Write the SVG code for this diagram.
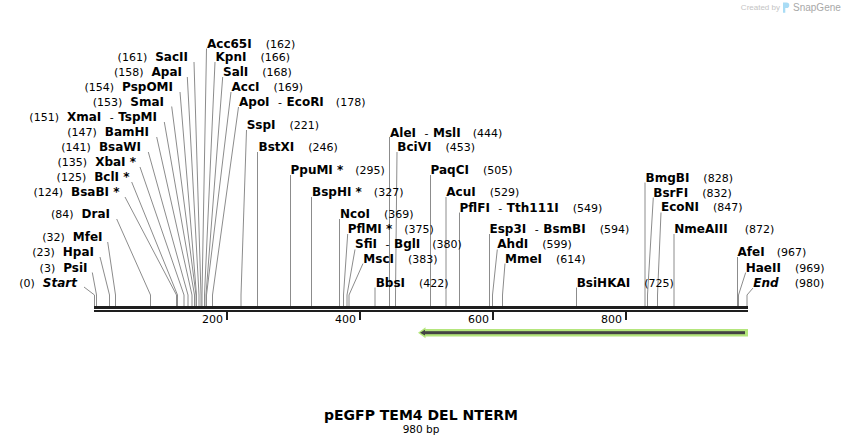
<svg xmlns="http://www.w3.org/2000/svg" width="842" height="445" viewBox="0 0 842 445">
<style>
text{font-family:"DejaVu Sans","Verdana",sans-serif;fill:#000}
.b{font-weight:bold;font-size:12px}
.i{font-weight:bold;font-style:italic;font-size:12px}
.n{font-weight:normal;font-size:11px}
.d{font-weight:normal;font-size:11px}
.l{text-anchor:end}
.ln{fill:none;stroke:#8c8c8c;stroke-width:1}
.tk{font-size:11px;text-anchor:end}
</style>
<rect width="842" height="445" fill="#fff"/>
<g id="watermark">
<text x="780" y="10" style="font-family:'Liberation Sans',sans-serif;font-size:8px;fill:#c4c4c4;text-anchor:end">Created by</text>
<path d="M783 2.5h3.5a2.8 2.8 0 0 1 0 5.6h-1.2v4.6h-2.3z" fill="#a9dcf5"/>
<text x="793" y="10.8" style="font-family:'Liberation Sans',sans-serif;font-size:10px;fill:#a8a8a8">SnapGene</text>
</g>
<g id="connectors">
<polyline class="ln" points="194,62 201,295 201,306"/>
<polyline class="ln" points="187.3,77 199,295 199,306"/>
<polyline class="ln" points="180,92 196.5,295 196.5,306"/>
<polyline class="ln" points="171.7,106.5 196,295 196,306"/>
<polyline class="ln" points="164.3,122 194.5,295 194.5,306"/>
<polyline class="ln" points="156.7,137 192,295 192,306"/>
<polyline class="ln" points="148.3,152 188,295 188,306"/>
<polyline class="ln" points="140,167 184,295 184,306"/>
<polyline class="ln" points="131.7,182 177.5,295 177.5,306"/>
<polyline class="ln" points="125,197 176.5,295 176.5,306"/>
<polyline class="ln" points="116.7,219 150.5,295 150.5,306"/>
<polyline class="ln" points="107.7,242 115.5,295 115.5,306"/>
<polyline class="ln" points="100,257 109.5,295 109.5,306"/>
<polyline class="ln" points="92.3,272.5 96.5,295 96.5,306"/>
<polyline class="ln" points="84,287 94.5,295 94.5,306"/>
<polyline class="ln" points="206.5,48.5 202,295 202,306"/>
<polyline class="ln" points="215,62 204.5,295 204.5,306"/>
<polyline class="ln" points="222.7,77 206,295 206,306"/>
<polyline class="ln" points="231,92 206.5,295 206.5,306"/>
<polyline class="ln" points="238.5,107 212.5,295 212.5,306"/>
<polyline class="ln" points="246.5,130 241,295 241,306"/>
<polyline class="ln" points="257.5,152 257.5,306"/>
<polyline class="ln" points="290.5,175 290.5,306"/>
<polyline class="ln" points="311.5,197 311.5,306"/>
<polyline class="ln" points="339.5,219 339.5,306"/>
<polyline class="ln" points="347.7,234 343.5,295 343.5,306"/>
<polyline class="ln" points="355,249.5 347,295 347,306"/>
<polyline class="ln" points="363,263.5 349,295 349,306"/>
<polyline class="ln" points="375,287.5 375,306"/>
<polyline class="ln" points="389.5,137 389.5,306"/>
<polyline class="ln" points="397,152 395.5,295 395.5,306"/>
<polyline class="ln" points="430.5,175 430.5,306"/>
<polyline class="ln" points="446,197 446,306"/>
<polyline class="ln" points="459.5,212.5 459.5,306"/>
<polyline class="ln" points="489.5,234 489.5,306"/>
<polyline class="ln" points="497.3,249.5 492.5,295 492.5,306"/>
<polyline class="ln" points="505,263.5 502.5,295 502.5,306"/>
<polyline class="ln" points="576.5,287.5 576.5,306"/>
<polyline class="ln" points="645,182.5 645,306"/>
<polyline class="ln" points="653.3,197.5 647.5,295 647.5,306"/>
<polyline class="ln" points="661,212.5 657.5,295 657.5,306"/>
<polyline class="ln" points="674,234 674,306"/>
<polyline class="ln" points="737.5,257 737.5,306"/>
<polyline class="ln" points="745.7,272.5 738.5,295 738.5,306"/>
<polyline class="ln" points="753,288 747,295 747,306"/>
</g>
<g id="backbone">
<rect x="94" y="306" width="654" height="3" fill="#1e1e1e"/>
<rect x="94" y="310" width="654" height="2" fill="#1e1e1e"/>
<rect x="226" y="312" width="2" height="8" fill="#1e1e1e"/>
<rect x="359" y="312" width="2" height="8" fill="#1e1e1e"/>
<rect x="492" y="312" width="2" height="8" fill="#1e1e1e"/>
<rect x="625" y="312" width="2" height="8" fill="#1e1e1e"/>
<text class="tk" x="223" y="322.5">200</text>
<text class="tk" x="356" y="322.5">400</text>
<text class="tk" x="489" y="322.5">600</text>
<text class="tk" x="622" y="322.5">800</text>
</g>
<g id="feature">
<polygon points="418,332.7 425.5,327.2 425.5,329 748,329 748,336.5 425.5,336.5 425.5,338.3" fill="#b4e67c"/>
<rect x="424" y="331.2" width="321" height="3" fill="#444"/>
<polygon points="420,332.7 425,329.8 425,335.6" fill="#444"/>
</g>
<g id="SacII"><text class="l" x="188" y="61"><tspan class="n">(161)</tspan><tspan class="b" dx="8">SacII</tspan></text></g>
<g id="ApaI"><text class="l" x="182" y="76"><tspan class="n">(158)</tspan><tspan class="b" dx="8">ApaI</tspan></text></g>
<g id="PspOMI"><text class="l" x="173" y="91"><tspan class="n">(154)</tspan><tspan class="b" dx="8">PspOMI</tspan></text></g>
<g id="SmaI"><text class="l" x="164" y="106"><tspan class="n">(153)</tspan><tspan class="b" dx="8">SmaI</tspan></text></g>
<g id="XmaI"><text class="l" x="157" y="121"><tspan class="n">(151)</tspan><tspan class="b" dx="8">XmaI</tspan><tspan class="d" dx="8.5">-</tspan><tspan class="b" dx="4.5">TspMI</tspan></text></g>
<g id="BamHI"><text class="l" x="149" y="136"><tspan class="n">(147)</tspan><tspan class="b" dx="8">BamHI</tspan></text></g>
<g id="BsaWI"><text class="l" x="141" y="151"><tspan class="n">(141)</tspan><tspan class="b" dx="8">BsaWI</tspan></text></g>
<g id="XbaI"><text class="l" x="136" y="166"><tspan class="n">(135)</tspan><tspan class="b" dx="8">XbaI *</tspan></text></g>
<g id="BclI"><text class="l" x="129.5" y="180.5"><tspan class="n">(125)</tspan><tspan class="b" dx="8">BclI *</tspan></text></g>
<g id="BsaBI"><text class="l" x="119.5" y="196"><tspan class="n">(124)</tspan><tspan class="b" dx="8">BsaBI *</tspan></text></g>
<g id="DraI"><text class="l" x="110" y="218"><tspan class="n">(84)</tspan><tspan class="b" dx="8">DraI</tspan></text></g>
<g id="MfeI"><text class="l" x="102.5" y="241"><tspan class="n">(32)</tspan><tspan class="b" dx="8">MfeI</tspan></text></g>
<g id="HpaI"><text class="l" x="94" y="256"><tspan class="n">(23)</tspan><tspan class="b" dx="8">HpaI</tspan></text></g>
<g id="PsiI"><text class="l" x="87.5" y="271.5"><tspan class="n">(3)</tspan><tspan class="b" dx="8">PsiI</tspan></text></g>
<g id="Start"><text class="l" x="77" y="286.5"><tspan class="n">(0)</tspan><tspan class="i" dx="8">Start</tspan></text></g>
<g id="Acc65I"><text x="207" y="47.6"><tspan class="b">Acc65I</tspan><tspan class="n" dx="14">(162)</tspan></text></g>
<g id="KpnI"><text x="215.5" y="61"><tspan class="b">KpnI</tspan><tspan class="n" dx="14">(166)</tspan></text></g>
<g id="SalI"><text x="223" y="76"><tspan class="b">SalI</tspan><tspan class="n" dx="14">(168)</tspan></text></g>
<g id="AccI"><text x="231.5" y="91"><tspan class="b">AccI</tspan><tspan class="n" dx="14">(169)</tspan></text></g>
<g id="ApoI"><text x="239" y="106"><tspan class="b">ApoI</tspan><tspan class="d" dx="8.5">-</tspan><tspan class="b" dx="4.5">EcoRI</tspan><tspan class="n" dx="12">(178)</tspan></text></g>
<g id="SspI"><text x="246.7" y="129"><tspan class="b">SspI</tspan><tspan class="n" dx="14">(221)</tspan></text></g>
<g id="BstXI"><text x="258.5" y="151"><tspan class="b">BstXI</tspan><tspan class="n" dx="14">(246)</tspan></text></g>
<g id="PpuMI"><text x="290.5" y="173.6"><tspan class="b">PpuMI *</tspan><tspan class="n" dx="12">(295)</tspan></text></g>
<g id="BspHI"><text x="312" y="196"><tspan class="b">BspHI *</tspan><tspan class="n" dx="12">(327)</tspan></text></g>
<g id="NcoI"><text x="340" y="218.3"><tspan class="b">NcoI</tspan><tspan class="n" dx="14">(369)</tspan></text></g>
<g id="PflMI"><text x="347.7" y="232.6"><tspan class="b">PflMI *</tspan><tspan class="n" dx="12">(375)</tspan></text></g>
<g id="SfiI"><text x="355" y="248.3"><tspan class="b">SfiI</tspan><tspan class="d" dx="8.5">-</tspan><tspan class="b" dx="4.5">BglI</tspan><tspan class="n" dx="12">(380)</tspan></text></g>
<g id="MscI"><text x="363.3" y="262.6"><tspan class="b">MscI</tspan><tspan class="n" dx="14">(383)</tspan></text></g>
<g id="BbsI"><text x="375.7" y="286.6"><tspan class="b">BbsI</tspan><tspan class="n" dx="14">(422)</tspan></text></g>
<g id="AleI"><text x="390" y="136.5"><tspan class="b">AleI</tspan><tspan class="d" dx="8.5">-</tspan><tspan class="b" dx="4.5">MslI</tspan><tspan class="n" dx="12">(444)</tspan></text></g>
<g id="BciVI"><text x="397.3" y="151"><tspan class="b">BciVI</tspan><tspan class="n" dx="14">(453)</tspan></text></g>
<g id="PaqCI"><text x="430.5" y="173.6"><tspan class="b">PaqCI</tspan><tspan class="n" dx="14">(505)</tspan></text></g>
<g id="AcuI"><text x="446.3" y="196"><tspan class="b">AcuI</tspan><tspan class="n" dx="14">(529)</tspan></text></g>
<g id="PflFI"><text x="459.5" y="211.6"><tspan class="b">PflFI</tspan><tspan class="d" dx="8.5">-</tspan><tspan class="b" dx="4.5">Tth111I</tspan><tspan class="n" dx="14">(549)</tspan></text></g>
<g id="Esp3I"><text x="489.5" y="232.6"><tspan class="b">Esp3I</tspan><tspan class="d" dx="8.5">-</tspan><tspan class="b" dx="4.5">BsmBI</tspan><tspan class="n" dx="14">(594)</tspan></text></g>
<g id="AhdI"><text x="497.3" y="248.3"><tspan class="b">AhdI</tspan><tspan class="n" dx="14">(599)</tspan></text></g>
<g id="MmeI"><text x="505" y="262.6"><tspan class="b">MmeI</tspan><tspan class="n" dx="14">(614)</tspan></text></g>
<g id="BsiHKAI"><text x="576.7" y="286.6"><tspan class="b">BsiHKAI</tspan><tspan class="n" dx="14">(725)</tspan></text></g>
<g id="BmgBI"><text x="645.5" y="181.6"><tspan class="b">BmgBI</tspan><tspan class="n" dx="14">(828)</tspan></text></g>
<g id="BsrFI"><text x="653.3" y="196.6"><tspan class="b">BsrFI</tspan><tspan class="n" dx="14">(832)</tspan></text></g>
<g id="EcoNI"><text x="661" y="211"><tspan class="b">EcoNI</tspan><tspan class="n" dx="14">(847)</tspan></text></g>
<g id="NmeAIII"><text x="674.3" y="233.3"><tspan class="b">NmeAIII</tspan><tspan class="n" dx="17">(872)</tspan></text></g>
<g id="AfeI"><text x="737.5" y="256"><tspan class="b">AfeI</tspan><tspan class="n" dx="12">(967)</tspan></text></g>
<g id="HaeII"><text x="745.7" y="271.6"><tspan class="b">HaeII</tspan><tspan class="n" dx="14">(969)</tspan></text></g>
<g id="End"><text x="753.3" y="287"><tspan class="i">End</tspan><tspan class="n" dx="16">(980)</tspan></text></g>
<g id="title">
<text x="421" y="420" style="font-weight:bold;font-size:14px;text-anchor:middle">pEGFP TEM4 DEL NTERM</text>
<text x="421" y="433" style="font-size:10.5px;text-anchor:middle">980 bp</text>
</g>
</svg>
